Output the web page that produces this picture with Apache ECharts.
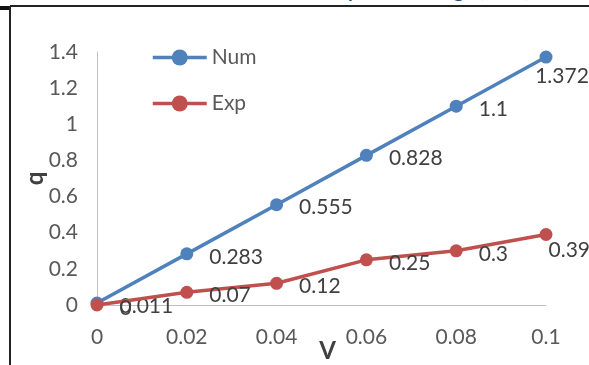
<!DOCTYPE html>
<html>
<head>
<meta charset="utf-8">
<script src="https://cdn.jsdelivr.net/npm/echarts@6/dist/echarts.min.js"></script>
<style>
html,body{margin:0;padding:0;background:#fff;}
#c{width:589px;height:365px;}
</style>
</head>
<body>
<div id="c"></div>
<script>
// ---- data ----
const xValues = [0, 0.02, 0.04, 0.06, 0.08, 0.1];
const numValues = [0.011, 0.283, 0.555, 0.828, 1.1, 1.372];
const expValues = [0, 0.07, 0.12, 0.25, 0.3, 0.39];
const seriesNames = ['Num', 'Exp'];
const titleText = 'Velocity vs Discharge (m\u00B3/s)';
const xAxisName = 'V';
const yAxisName = 'q';

const FONT = 'Lato, "Open Sans", sans-serif';
const labelColor = '#404040';
const tickColor = '#595959';
const axisColor = '#BFBFBF';
const colors = ['#4F81BD', '#C0504D'];

function buildData(vals, overrides) {
  return vals.map((v, i) => {
    const item = { value: [xValues[i], v] };
    if (overrides && overrides[i]) item.label = overrides[i];
    return item;
  });
}

const baseLabel = {
  show: true, position: 'right', distance: 16, offset: [0, 3],
  color: labelColor, fontFamily: FONT, fontSize: 21
};

// measure title to place it (only its descenders are visible in the reference)
const cv = document.createElement('canvas').getContext('2d');
cv.font = 'bold 20px Lato';
const prefixW = cv.measureText('Velocit').width;
const yW = cv.measureText('y').width;
const titleX = 352 - prefixW - yW / 2;

const chart = echarts.init(document.getElementById('c'), null, { renderer: 'canvas' });
chart.setOption({
  animation: false,
  backgroundColor: '#ffffff',
  grid: { left: 97, right: 43, top: 52, bottom: 60, containLabel: false, outerBoundsMode: 'none' },
  legend: {
    orient: 'vertical', left: 146, top: 42,
    itemWidth: 54, itemHeight: 20, itemGap: 25,
    textStyle: { fontFamily: FONT, fontSize: 21, color: tickColor, lineHeight: 20 },
    data: seriesNames.map((n, i) => ({
      name: n,
      itemStyle: { color: colors[i] },
      lineStyle: { color: colors[i], width: 3.5 }
    }))
  },
  xAxis: {
    type: 'value', min: 0, max: 0.1, interval: 0.02,
    name: xAxisName, nameLocation: 'middle', nameGap: 34, nameMoveOverlap: false,
    nameTextStyle: { fontFamily: FONT, fontSize: 24, fontWeight: 'bold', color: '#404040', padding: [0, 0, 0, 12] },
    axisLine: { show: true, lineStyle: { color: axisColor, width: 1 } },
    axisTick: { show: false },
    splitLine: { show: false },
    axisLabel: { fontFamily: FONT, fontSize: 21, color: tickColor, margin: 22,
      formatter: v => String(+v.toFixed(2)) }
  },
  yAxis: {
    type: 'value', min: 0, max: 1.4, interval: 0.2,
    name: yAxisName, nameLocation: 'middle', nameGap: 50, nameRotate: 90, nameMoveOverlap: false,
    nameTextStyle: { fontFamily: FONT, fontSize: 24, fontWeight: 'bold', color: '#404040' },
    axisLine: { show: true, lineStyle: { color: axisColor, width: 1 } },
    axisTick: { show: false },
    splitLine: { show: false },
    axisLabel: { fontFamily: FONT, fontSize: 21, color: tickColor, margin: 19,
      formatter: v => String(+v.toFixed(1)) }
  },
  series: [
    {
      name: seriesNames[0], type: 'line', symbol: 'circle', symbolSize: 13,
      lineStyle: { color: colors[0], width: 3.5 },
      itemStyle: { color: colors[0] },
      label: baseLabel,
      data: buildData(numValues, {
        5: { position: 'bottom', distance: 2, offset: [16, 0] }
      }),
      z: 2
    },
    {
      name: seriesNames[1], type: 'line', symbol: 'circle', symbolSize: 13,
      lineStyle: { color: colors[1], width: 3.5 },
      itemStyle: { color: colors[1] },
      label: baseLabel,
      data: buildData(expValues, {
        5: { position: 'right', offset: [-20, 16] }
      }),
      z: 3
    }
  ],
  graphic: [
    { type: 'text', x: titleX, y: -19, silent: true,
      style: { text: titleText, font: 'bold 20px Lato', fill: '#1F4E79', verticalAlign: 'top' } },
    { type: 'rect', shape: { x: 0, y: 6, width: 11, height: 4 }, style: { fill: '#111' }, silent: true },
    { type: 'line', shape: { x1: 10, y1: 6, x2: 589, y2: 6 }, style: { stroke: '#222', lineWidth: 2 }, silent: true },
    { type: 'line', shape: { x1: 10, y1: 6, x2: 10, y2: 365 }, style: { stroke: '#222', lineWidth: 2 }, silent: true }
  ]
});
</script>
</body>
</html>
